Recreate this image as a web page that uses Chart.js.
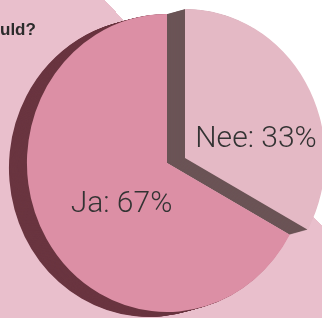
<!DOCTYPE html>
<html>
<head>
<meta charset="utf-8">
<script src="https://cdn.jsdelivr.net/npm/chart.js@4"></script>
<style>
  html, body { margin: 0; padding: 0; }
  body {
    width: 322px; height: 318px; overflow: hidden; position: relative;
    background: linear-gradient(46deg, #e9bfcc 296px, #ffffff 296px);
  }
  #title {
    position: absolute; left: 0; top: 20px;
    font: bold 17px "Liberation Sans", Arial, sans-serif; color: #2b2b2b;
  }
  canvas { position: absolute; left: 0; top: 0; }
</style>
</head>
<body>
<canvas id="pie" width="322" height="318"></canvas>
<div id="title">uld?</div>
<script>
// data
const labels = ['Nee', 'Ja'];
const values = [33, 67];

// styling
const faceColors = ['#e4b9c5', '#dc8fa5'];
const sideColors = ['#6b5456', '#6a3540'];
const labelSpots = [[0.507, -0.074], [-0.325, 0.329]]; // label centre x / baseline y, in radii from slice centre
const SQUASH = 0.94;              // pie is a little narrower than it is tall
const DEPTH = { x: -18, y: 5 };   // screen px, direction of the 3D side

const pie3d = {
    id: 'pie3d',
    afterDatasetsUpdate(chart) {
        // Nee pulled out by the depth, so its side fills the gap
        const arcs = chart.getDatasetMeta(0).data;
        arcs[0].x -= DEPTH.x / SQUASH;
        arcs[0].y -= DEPTH.y;
    },
    beforeDatasetsDraw(chart) {
        const ctx = chart.ctx;
        const cx = (chart.chartArea.left + chart.chartArea.right) / 2;
        ctx.save();
        ctx.translate(cx, 0);
        ctx.scale(SQUASH, 1);
        ctx.translate(-cx, 0);

        const steps = 20;
        chart.getDatasetMeta(0).data.forEach((arc, i) => {
            ctx.fillStyle = sideColors[i];
            for (let s = steps; s > 0; s--) {
                const ox = DEPTH.x / SQUASH * s / steps;
                const oy = DEPTH.y * s / steps;
                ctx.beginPath();
                ctx.moveTo(arc.x + ox, arc.y + oy);
                ctx.arc(arc.x + ox, arc.y + oy, arc.outerRadius, arc.startAngle, arc.endAngle);
                ctx.closePath();
                ctx.fill();
            }
        });
    },
    afterDatasetsDraw(chart) {
        const ctx = chart.ctx;
        ctx.restore();

        const cx = (chart.chartArea.left + chart.chartArea.right) / 2;
        ctx.save();
        ctx.font = '300 30px Roboto, "Liberation Sans", sans-serif';
        ctx.fillStyle = '#333';
        ctx.textAlign = 'center';
        ctx.textBaseline = 'alphabetic';
        chart.getDatasetMeta(0).data.forEach((arc, i) => {
            const r = arc.outerRadius;
            const x = cx + (arc.x - cx) * SQUASH + labelSpots[i][0] * r * SQUASH;
            const y = arc.y + labelSpots[i][1] * r;
            ctx.fillText(labels[i] + ': ' + values[i] + '%', x, y);
        });
        ctx.restore();
    }
};

new Chart(document.getElementById('pie'), {
    type: 'pie',
    data: {
        labels: labels,
        datasets: [{
            data: values,
            backgroundColor: faceColors,
            borderWidth: 0,
            clip: false
        }]
    },
    options: {
        responsive: false,
        animation: false,
        events: [],
        radius: 149,
        layout: { padding: { left: 12, top: 8, right: 0, bottom: 0 } },
        plugins: {
            legend: { display: false },
            tooltip: { enabled: false }
        }
    },
    plugins: [pie3d]
});
</script>
</body>
</html>
